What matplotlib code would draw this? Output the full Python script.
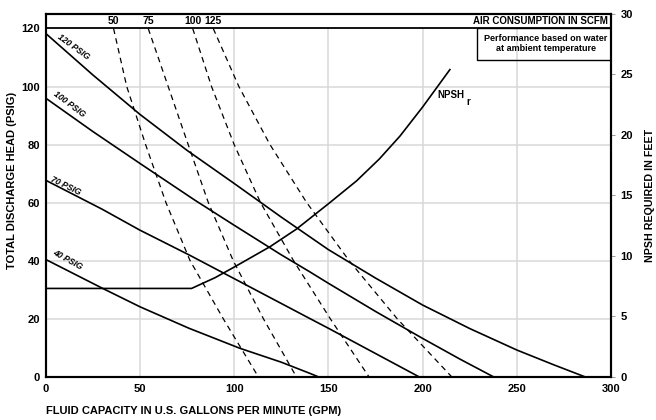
import matplotlib
matplotlib.use('Agg')
import matplotlib.pyplot as plt
from matplotlib.patches import Rectangle

plt.rcParams['font.family'] = ['Liberation Sans', 'DejaVu Sans']
plt.rcParams['font.weight'] = 'bold'

# head curves: gpm vs total discharge head (psig), one per inlet air pressure
gpm_120 = [0, 25, 50, 75, 100, 125, 150, 175, 200, 225, 250, 270, 286]
head_120 = [118.3, 104, 90.4, 78, 66.6, 55, 43.8, 34, 24.7, 16.6, 9.2, 4, 0]

gpm_100 = [0, 25, 50, 79, 100, 125, 140, 150, 175, 200, 220, 237.5]
head_100 = [96, 84.5, 73.5, 60.9, 52.2, 42, 36.2, 32.2, 22.5, 13.2, 6, 0]

gpm_70 = [0, 30, 50, 76, 100, 140, 150, 175, 198]
head_70 = [67.7, 57.7, 50.5, 42, 33.8, 20.1, 16.7, 8, 0]

gpm_40 = [0, 30, 50, 76, 103, 125, 140, 144.5]
head_40 = [40.4, 30.5, 24.1, 16.7, 9.8, 5, 1.2, 0]

psig_labels = ['120 PSIG', '100 PSIG', '70 PSIG', '40 PSIG']

# air consumption lines (scfm), psig levels 120 -> 0
scfm_head = [120, 100, 80, 60, 40, 20, 0]
gpm_50scfm = [36, 43, 53, 63.8, 76.6, 94.2, 112.8]
gpm_75scfm = [54.4, 65, 75.6, 86.3, 99.5, 115.5, 133]
gpm_100scfm = [78, 88, 100, 114, 131.5, 151, 171.5]
gpm_125scfm = [88.9, 102.5, 119, 138.5, 161, 186.5, 215.4]
scfm_labels = ['50', '75', '100', '125']

# NPSH required (feet)
gpm_npsh = [0, 77.4, 90, 100.4, 119, 133, 150, 165, 177, 188, 200, 214.5]
npsh_ft = [7.3, 7.3, 8.2, 9.1, 10.75, 12.2, 14.3, 16.2, 18.0, 19.9, 22.3, 25.4]

fig = plt.figure(figsize=(6.56, 4.2), dpi=100)
ax = fig.add_axes([0.0697, 0.1031, 0.8617, 0.8636])
ax.set_xlim(0, 300)
ax.set_ylim(0, 125)

grid_c = '#d9d9d9'
ax.vlines([50, 100, 150, 200, 250], 0, 120, color=grid_c, lw=1.1, zorder=0)
ax.hlines([20, 40, 60, 80, 100], 0, 300, color=grid_c, lw=1.1, zorder=0)
ax.axhline(120, color='k', lw=1.3)

for xs, ys in [(gpm_120, head_120), (gpm_100, head_100),
               (gpm_70, head_70), (gpm_40, head_40)]:
    ax.plot(xs, ys, color='k', lw=1.2, solid_capstyle='butt', solid_joinstyle='round')

for xs in [gpm_50scfm, gpm_75scfm, gpm_100scfm, gpm_125scfm]:
    ax.plot(xs, scfm_head, color='k', lw=0.9, linestyle=(0, (4.5, 3.5)))

for xs, lab in zip([gpm_50scfm, gpm_75scfm, gpm_100scfm, gpm_125scfm], scfm_labels):
    ax.text(xs[0], 122.5, lab, ha='center', va='center', fontsize=7.5)

ax.text(298.5, 122.5, 'AIR CONSUMPTION IN SCFM', ha='right', va='center', fontsize=7)

# note box
ax.add_patch(Rectangle((229, 109.3), 71, 10.7, fill=False, ec='k', lw=1))
ax.text(265.5, 114.7, 'Performance based on water\nat ambient temperature',
        ha='center', va='center', fontsize=6.5, linespacing=1.15)

# curve labels
lab_pos = [(15.0, 113.7, -36), (12.5, 93.9, -37), (10.8, 65.7, -26), (11.7, 40.4, -29)]
for (x, y, r), lab in zip(lab_pos, psig_labels):
    ax.text(x, y, lab, ha='center', va='center', rotation=r, fontsize=6.2,
            style='italic', rotation_mode='anchor')

ax.text(208, 97, 'NPSH', ha='left', va='center', fontsize=7)
ax.text(223.5, 94.6, 'r', ha='left', va='center', fontsize=7)

ax.set_xticks(range(0, 301, 50))
ax.set_yticks(range(0, 121, 20))
ax.tick_params(axis='both', length=0, labelsize=8)
ax.tick_params(axis='y', pad=4)
ax.tick_params(axis='x', pad=5)

ax2 = ax.twinx()
ax2.set_ylim(0, 30)
ax2.plot(gpm_npsh, npsh_ft, color='k', lw=1.2, solid_joinstyle='round')
ax2.set_yticks(range(0, 31, 5))
ax2.tick_params(axis='y', length=3, width=0.6, color='#888888', pad=4, labelsize=8)

for a in (ax, ax2):
    for s in a.spines.values():
        s.set_linewidth(1.5)

fig.text(45.7 / 656, 1 - 411.5 / 420, 'FLUID CAPACITY IN U.S. GALLONS PER MINUTE (GPM)',
         ha='left', va='center', fontsize=8)
fig.text(12.5 / 656, 1 - 180 / 420, 'TOTAL DISCHARGE HEAD (PSIG)',
         ha='center', va='center', rotation=90, fontsize=8)
fig.text(650 / 656, 1 - 195 / 420, 'NPSH REQUIRED IN FEET',
         ha='center', va='center', rotation=90, fontsize=7.7)

fig.savefig('out.png', dpi=100)
